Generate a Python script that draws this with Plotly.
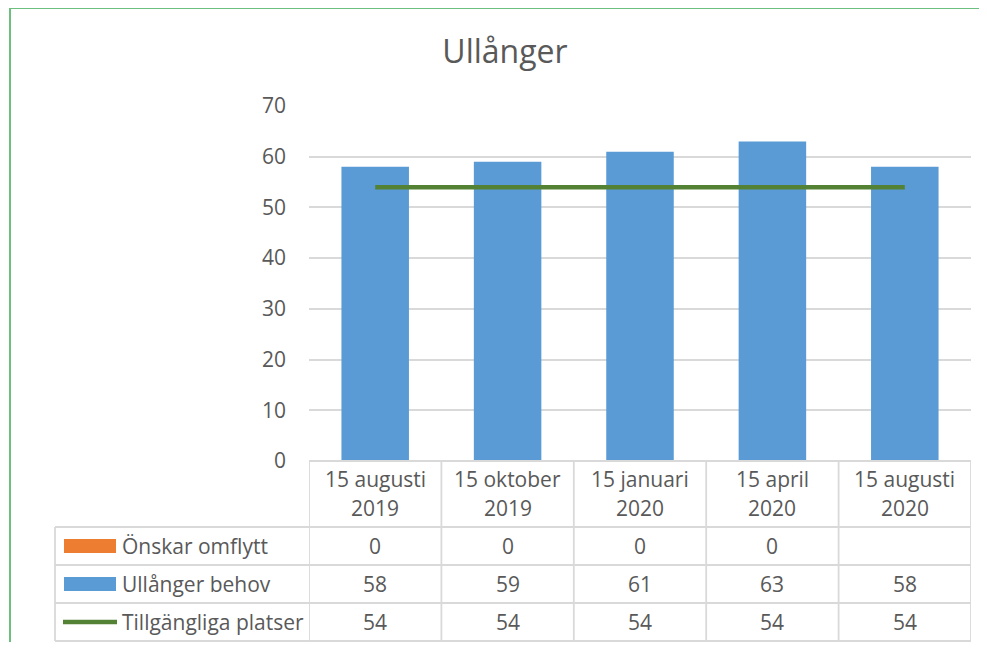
import plotly.graph_objects as go

categories = ["15 augusti 2019", "15 oktober 2019", "15 januari 2020", "15 april 2020", "15 augusti 2020"]
header_line1 = ["15 augusti", "15 oktober", "15 januari", "15 april", "15 augusti"]
header_line2 = ["2019", "2019", "2020", "2020", "2020"]
onskar_omflytt = [0, 0, 0, 0, None]
ullanger_behov = [58, 59, 61, 63, 58]
tillgangliga_platser = [54, 54, 54, 54, 54]
series_names = ["Önskar omflytt", "Ullånger behov", "Tillgängliga platser"]
y_ticks = [0, 10, 20, 30, 40, 50, 60, 70]

# page body has an 8px margin; work in page pixels and convert
OFF = 8
W, H = 987 - 2 * OFF, 650 - 2 * OFF
L, R, T, B = 309, 971, 106, 461  # plot area in page pixels
FONT = "Open Sans"
TXT = "#595959"
GRID = "#d9d9d9"
FS = 21


def px(xp):
    return (xp - L) / (R - L)


def py(yp):
    return (B - yp) / (B - T)


fig = go.Figure()
fig.add_trace(go.Bar(x=categories, y=onskar_omflytt, name=series_names[0],
                     marker=dict(color="#ed7d31", line=dict(width=0)), width=0.51))
fig.add_trace(go.Bar(x=categories, y=ullanger_behov, name=series_names[1],
                     marker=dict(color="#5b9bd5", line=dict(width=0)), width=0.51))
fig.add_trace(go.Scatter(x=categories, y=tillgangliga_platser, name=series_names[2],
                         mode="lines", line=dict(color="#548235", width=4.5)))

shapes = []
annotations = []

header_top = 461
row_lines = [527, 565, 603, 641]
left_x = 55


def hline(y0p, xa, xb):
    shapes.append(dict(type="line", xref="paper", yref="paper", x0=xa, x1=xb,
                       y0=py(y0p), y1=py(y0p), line=dict(color=GRID, width=1.8)))


hline(header_top, px(L), px(R))
for yl in row_lines:
    hline(yl, px(left_x), px(R))
n = len(categories)
for i in range(n + 1):
    shapes.append(dict(type="line", xref="x", yref="paper", x0=i - 0.5, x1=i - 0.5,
                       y0=py(header_top), y1=py(row_lines[-1]), line=dict(color=GRID, width=1.8)))
shapes.append(dict(type="line", xref="paper", yref="paper", x0=px(left_x), x1=px(left_x),
                   y0=py(row_lines[0]), y1=py(row_lines[-1]), line=dict(color=GRID, width=1.8)))


def txt(x, xref, yp, text, xanchor="center"):
    annotations.append(dict(x=x, xref=xref, y=py(yp), yref="paper", text=text,
                            xanchor=xanchor, yanchor="middle", showarrow=False,
                            font=dict(family=FONT, size=FS, color=TXT)))


for i in range(n):
    txt(i, "x", 479, header_line1[i])
    txt(i, "x", 508, header_line2[i])

row_values = [onskar_omflytt, ullanger_behov, tillgangliga_platser]
row_centers = [546, 584, 622]
for r, vals in enumerate(row_values):
    for i, v in enumerate(vals):
        if v is None:
            continue
        txt(i, "x", row_centers[r], str(v))
    txt(px(120), "paper", row_centers[r], series_names[r], xanchor="left")

shapes.append(dict(type="rect", xref="paper", yref="paper", x0=px(64), x1=px(116),
                   y0=py(553), y1=py(539), fillcolor="#ed7d31", line=dict(width=0)))
shapes.append(dict(type="rect", xref="paper", yref="paper", x0=px(64), x1=px(116),
                   y0=py(591), y1=py(577), fillcolor="#5b9bd5", line=dict(width=0)))
shapes.append(dict(type="line", xref="paper", yref="paper", x0=px(63), x1=px(117),
                   y0=py(622), y1=py(622), line=dict(color="#548235", width=4.5)))

# outer green frame
shapes.append(dict(type="line", xref="paper", yref="paper", x0=px(10), x1=px(10),
                   y0=py(8), y1=py(660), line=dict(color="#6cbf7c", width=2)))
shapes.append(dict(type="line", xref="paper", yref="paper", x0=px(10), x1=px(995),
                   y0=py(8), y1=py(8), line=dict(color="#6cbf7c", width=2)))

fig.update_layout(
    width=W, height=H,
    margin=dict(l=L - OFF, r=W - (R - OFF), t=T - OFF, b=H - (B - OFF)),
    paper_bgcolor="white", plot_bgcolor="white",
    barmode="overlay", showlegend=False,
    title=dict(text="Ullånger", x=(505 - OFF) / W, xanchor="center", y=1 - (52 - OFF) / H,
               yanchor="middle", font=dict(family=FONT, size=32, color=TXT)),
    xaxis=dict(type="category", range=[-0.5, n - 0.5], showticklabels=False, showgrid=False,
               zeroline=False, showline=False, ticks=""),
    yaxis=dict(range=[0, 70], tickvals=y_ticks, showgrid=True, gridcolor=GRID, gridwidth=1.5,
               zeroline=False, showline=False, ticks="", ticklabelstandoff=22,
               tickfont=dict(family=FONT, size=FS, color=TXT)),
    shapes=shapes, annotations=annotations,
)

fig.write_html("out.html")
